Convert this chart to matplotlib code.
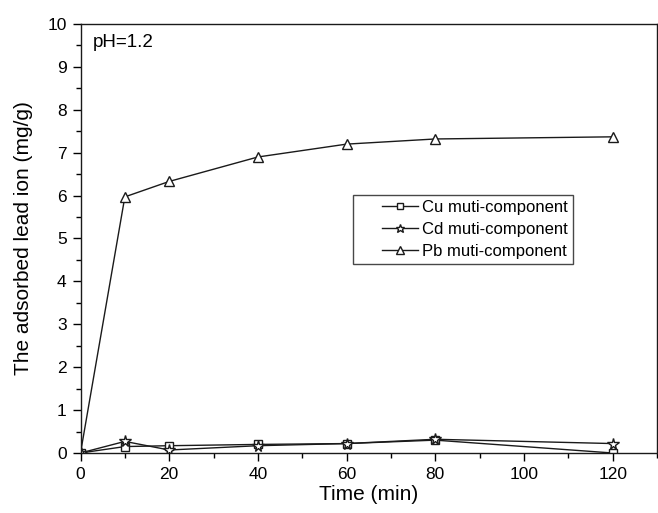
import matplotlib
matplotlib.use("Agg")
import numpy as np
import matplotlib.pyplot as plt
from matplotlib.ticker import MultipleLocator
from matplotlib.legend_handler import HandlerLine2D

plt.rcParams['font.family'] = ['Liberation Sans', 'DejaVu Sans']

time = [0, 10, 20, 40, 60, 80, 120]
cu = [0.0, 0.15, 0.17, 0.20, 0.22, 0.30, 0.0]
cd = [0.0, 0.27, 0.07, 0.17, 0.22, 0.32, 0.22]
pb = [0.0, 5.97, 6.33, 6.90, 7.20, 7.32, 7.37]
labels = ['Cu muti-component', 'Cd muti-component', 'Pb muti-component']


class ShiftHandler(HandlerLine2D):
    """Draw the legend line in the right part of the handle box."""
    frac = 0.4

    def get_xdata(self, legend, xdescent, ydescent, width, height, fontsize):
        off = width * self.frac
        xd, xm = super().get_xdata(legend, xdescent, ydescent, width - off, height, fontsize)
        return np.asarray(xd, float) + off, np.asarray(xm, float) + off


fig = plt.figure(figsize=(6.58, 5.13), dpi=100)
ax = fig.add_axes([80.5 / 658, 60 / 513, (657 - 80.5) / 658, 429 / 513])

kw = dict(color='#1a1a1a', lw=1.0, mfc='white', mec='#1a1a1a', mew=1.0)
ax.plot(time, cu, marker='s', ms=6, label=labels[0], **kw)
ax.plot(time, cd, marker='*', ms=8.5, label=labels[1], **kw)
ax.plot(time, pb, marker='^', ms=7.5, label=labels[2], **kw)

ax.set_xlim(0, 130)
ax.set_ylim(0, 10)
ax.xaxis.set_major_locator(MultipleLocator(20))
ax.xaxis.set_minor_locator(MultipleLocator(10))
ax.yaxis.set_major_locator(MultipleLocator(1))
ax.yaxis.set_minor_locator(MultipleLocator(0.5))
for s in ax.spines.values():
    s.set_linewidth(1.0)
    s.set_color('#1a1a1a')
ax.tick_params(which='major', direction='out', length=6, width=1, labelsize=12.5,
               top=False, right=False, pad=4)
ax.tick_params(which='minor', direction='out', length=3.5, width=1, top=False, right=False)
ax.set_xlabel('Time (min)', fontsize=15, labelpad=2)
ax.set_ylabel('The adsorbed lead ion (mg/g)', fontsize=15, labelpad=10)
ax.text(0.022, 0.946, 'pH=1.2', transform=ax.transAxes, fontsize=13.5, va='baseline')

handler = ShiftHandler()
leg = ax.legend(loc='upper left', bbox_to_anchor=(272.5 / 576.5, 1 - 171 / 429), fontsize=12,
                frameon=True, fancybox=False, edgecolor='#1a1a1a',
                handlelength=3.6, handletextpad=0.25, borderpad=0.3, labelspacing=0.42,
                markerscale=0.75, borderaxespad=0,
                handler_map={ln: handler for ln in ax.get_lines()})
leg.get_frame().set_linewidth(1.0)

fig.savefig('out.png', dpi=100)
